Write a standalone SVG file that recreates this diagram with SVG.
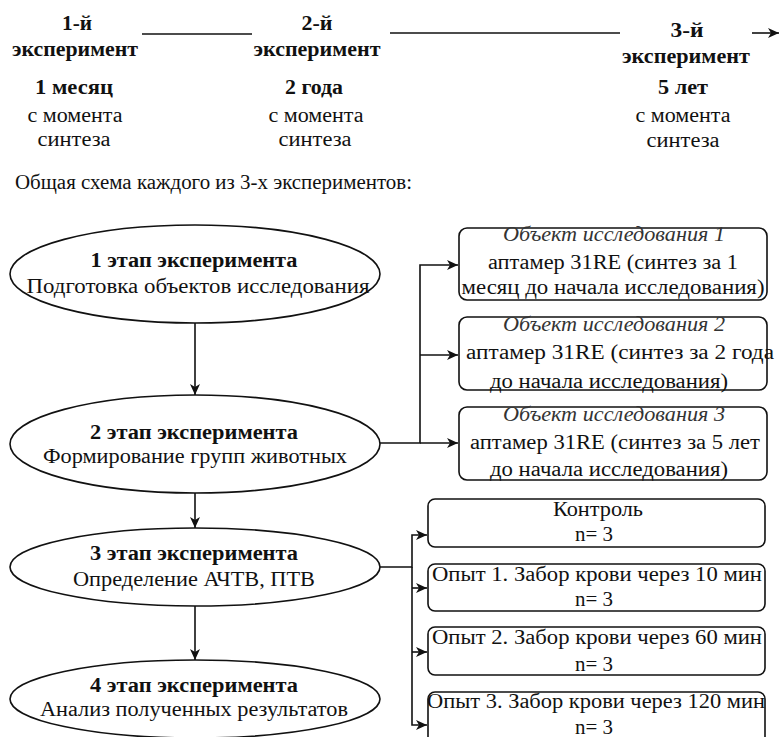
<svg xmlns="http://www.w3.org/2000/svg" width="779" height="737" viewBox="0 0 779 737">
<style>
text{font-family:'Liberation Serif','Times New Roman','DejaVu Serif',serif;font-size:20px;fill:#111;text-anchor:middle}
.b{font-weight:bold}
.i{font-style:italic;fill:#333}
.l{text-anchor:start}
.n{fill:#fff;stroke:#111;stroke-width:1.6}
.c{fill:none;stroke:#111;stroke-width:1.6}
</style>
<defs>
<marker id="ah" markerUnits="userSpaceOnUse" markerWidth="12" markerHeight="10" refX="11" refY="5" orient="auto">
<path d="M0,0 L11,5 L0,10 L3,5 Z" fill="#111"/>
</marker>
</defs>
<g font-family="Liberation Serif, serif">
<g id="timeline">
<text class="b" x="77" y="30" textLength="30" lengthAdjust="spacingAndGlyphs">1-й</text>
<text class="b" x="75" y="56" textLength="126" lengthAdjust="spacingAndGlyphs">эксперимент</text>
<text class="b" x="74" y="94" textLength="78" lengthAdjust="spacingAndGlyphs">1 месяц</text>
<text x="75" y="122" textLength="95" lengthAdjust="spacingAndGlyphs">с момента</text>
<text x="74" y="146" textLength="73" lengthAdjust="spacingAndGlyphs">синтеза</text>
<text class="b" x="317" y="30" textLength="31" lengthAdjust="spacingAndGlyphs">2-й</text>
<text class="b" x="317" y="56" textLength="127" lengthAdjust="spacingAndGlyphs">эксперимент</text>
<text class="b" x="314" y="94" textLength="58" lengthAdjust="spacingAndGlyphs">2 года</text>
<text x="316" y="122" textLength="95" lengthAdjust="spacingAndGlyphs">с момента</text>
<text x="315" y="146" textLength="73" lengthAdjust="spacingAndGlyphs">синтеза</text>
<text class="b" x="687" y="37" textLength="33" lengthAdjust="spacingAndGlyphs">3-й</text>
<text class="b" x="686" y="63" textLength="128" lengthAdjust="spacingAndGlyphs">эксперимент</text>
<text class="b" x="683" y="94" textLength="50" lengthAdjust="spacingAndGlyphs">5 лет</text>
<text x="683" y="122" textLength="95" lengthAdjust="spacingAndGlyphs">с момента</text>
<text x="683" y="147" textLength="73" lengthAdjust="spacingAndGlyphs">синтеза</text>
</g>
<text class="l" x="15" y="189" textLength="397" lengthAdjust="spacingAndGlyphs">Общая схема каждого из 3-х экспериментов:</text>
<g id="connectors">
<line class="c" x1="142" y1="34" x2="252" y2="34"/>
<line class="c" x1="390" y1="33" x2="620" y2="33"/>
<line class="c" x1="752" y1="33" x2="779" y2="33" marker-end="url(#ah)"/>
<line class="c" x1="195" y1="323" x2="195" y2="395" marker-end="url(#ah)"/>
<line class="c" x1="195" y1="493" x2="195" y2="528" marker-end="url(#ah)"/>
<line class="c" x1="195" y1="606" x2="195" y2="660" marker-end="url(#ah)"/>
<polyline class="c" points="380,443 420,443 420,265 458,265" marker-end="url(#ah)"/>
<line class="c" x1="420" y1="355" x2="458" y2="355" marker-end="url(#ah)"/>
<line class="c" x1="420" y1="443" x2="458" y2="443" marker-end="url(#ah)"/>
<polyline class="c" points="380,567 412,567 412,535 427,535" marker-end="url(#ah)"/>
<polyline class="c" points="412,567 412,725 427,725" marker-end="url(#ah)"/>
<line class="c" x1="412" y1="588" x2="427" y2="588" marker-end="url(#ah)"/>
<line class="c" x1="412" y1="652" x2="427" y2="652" marker-end="url(#ah)"/>
</g>
<g id="stage1">
<ellipse class="n" cx="195" cy="274" rx="185" ry="49"/>
<text class="b" x="194" y="267" textLength="207" lengthAdjust="spacingAndGlyphs">1 этап эксперимента</text>
<text x="198" y="293" textLength="343" lengthAdjust="spacingAndGlyphs">Подготовка объектов исследования</text>
</g>
<g id="stage2">
<ellipse class="n" cx="195" cy="444" rx="185" ry="49"/>
<text class="b" x="194" y="439" textLength="208" lengthAdjust="spacingAndGlyphs">2 этап эксперимента</text>
<text x="195" y="463" textLength="304" lengthAdjust="spacingAndGlyphs">Формирование групп животных</text>
</g>
<g id="stage3">
<ellipse class="n" cx="195" cy="567" rx="185" ry="39"/>
<text class="b" x="194" y="560" textLength="208" lengthAdjust="spacingAndGlyphs">3 этап эксперимента</text>
<text x="194" y="586" textLength="242" lengthAdjust="spacingAndGlyphs">Определение АЧТВ, ПТВ</text>
</g>
<g id="stage4">
<ellipse class="n" cx="195" cy="699" rx="185" ry="39"/>
<text class="b" x="194" y="692" textLength="208" lengthAdjust="spacingAndGlyphs">4 этап эксперимента</text>
<text x="194" y="716" textLength="308" lengthAdjust="spacingAndGlyphs">Анализ полученных результатов</text>
</g>
<g id="object1">
<rect class="n" x="459" y="228" width="308" height="72" rx="8"/>
<text class="i" x="614" y="241" textLength="222" lengthAdjust="spacingAndGlyphs">Объект исследования 1</text>
<text x="613" y="269" textLength="250" lengthAdjust="spacingAndGlyphs">аптамер 31RE (синтез за 1</text>
<text x="613" y="294" textLength="303" lengthAdjust="spacingAndGlyphs">месяц до начала исследования)</text>
</g>
<g id="object2">
<rect class="n" x="459" y="317" width="308" height="73" rx="8"/>
<text class="i" x="614" y="331" textLength="222" lengthAdjust="spacingAndGlyphs">Объект исследования 2</text>
<text x="620" y="359" textLength="308" lengthAdjust="spacingAndGlyphs">аптамер 31RE (синтез за 2 года</text>
<text x="609" y="388" textLength="238" lengthAdjust="spacingAndGlyphs">до начала исследования)</text>
</g>
<g id="object3">
<rect class="n" x="459" y="407" width="308" height="73" rx="8"/>
<text class="i" x="614" y="421" textLength="222" lengthAdjust="spacingAndGlyphs">Объект исследования 3</text>
<text x="615" y="449" textLength="290" lengthAdjust="spacingAndGlyphs">аптамер 31RE (синтез за 5 лет</text>
<text x="609" y="476" textLength="238" lengthAdjust="spacingAndGlyphs">до начала исследования)</text>
</g>
<g id="control">
<rect class="n" x="428" y="499" width="337" height="48" rx="7"/>
<text x="598" y="516" textLength="90" lengthAdjust="spacingAndGlyphs">Контроль</text>
<text x="594" y="541" textLength="38" lengthAdjust="spacingAndGlyphs">n= 3</text>
</g>
<g id="exp1">
<rect class="n" x="428" y="564" width="337" height="47" rx="7"/>
<text x="597" y="581" textLength="330" lengthAdjust="spacingAndGlyphs">Опыт 1. Забор крови через 10 мин</text>
<text x="594" y="606" textLength="38" lengthAdjust="spacingAndGlyphs">n= 3</text>
</g>
<g id="exp2">
<rect class="n" x="428" y="627" width="337" height="48" rx="7"/>
<text x="597" y="644" textLength="330" lengthAdjust="spacingAndGlyphs">Опыт 2. Забор крови через 60 мин</text>
<text x="594" y="671" textLength="38" lengthAdjust="spacingAndGlyphs">n= 3</text>
</g>
<g id="exp3">
<rect class="n" x="428" y="692" width="337" height="55" rx="7"/>
<text x="596" y="708" textLength="338" lengthAdjust="spacingAndGlyphs">Опыт 3. Забор крови через 120 мин</text>
<text x="594" y="734" textLength="38" lengthAdjust="spacingAndGlyphs">n= 3</text>
</g>
</g>
</svg>
